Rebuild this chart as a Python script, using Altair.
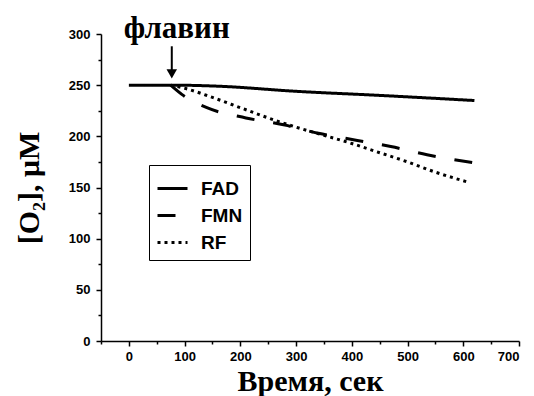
import altair as alt
import pandas as pd

# ---- data ----
fad_t = [0, 80, 160, 300, 450, 620]
fad_v = [250, 250, 249, 244, 240, 235]

fmn_t = [75, 95, 140, 210, 280, 340, 410, 470, 535, 620]
fmn_v = [250, 241, 228, 218, 211, 203, 196, 190, 182, 174]

rf_t = [75, 100, 150, 200, 250, 300, 350, 400, 450, 500, 550, 610]
rf_v = [250, 247, 238, 228, 218, 209, 201, 193, 184, 175, 165, 155]

series_names = ["FAD", "FMN", "RF"]

arrow_t = [77]
arrow_top = [288]
arrow_tip = [261]
label_text = ["флавин"]
label_v = [305]

x_major = [0, 100, 200, 300, 400, 500, 600, 700]
x_minor = [-50, 50, 150, 250, 350, 450, 550, 650]
y_major = [0, 50, 100, 150, 200, 250, 300]
y_minor = [25, 75, 125, 175, 225, 275]

rows = []
for name, ts, vs in zip(series_names, [fad_t, fmn_t, rf_t], [fad_v, fmn_v, rf_v]):
    for t, v in zip(ts, vs):
        rows.append({"series": name, "t": t, "v": v})
df = pd.DataFrame(rows)

ann = pd.DataFrame({"t": arrow_t, "top": arrow_top, "tip": arrow_tip,
                    "label": label_text, "lv": label_v})

xscale = alt.Scale(domain=[-50, 700], nice=False, zero=False)
yscale = alt.Scale(domain=[0, 300], nice=False)

tick_font = "Liberation Sans"
serif = "Liberation Serif"

x_axis = alt.Axis(values=x_major, title="Время, сек", titleFont=serif, titleFontSize=30,
                  titleFontWeight="bold", titleColor="black", titlePadding=3,
                  labelFont=tick_font, labelFontWeight="bold", labelFontSize=13,
                  labelColor="black", tickColor="black", domainColor="black",
                  tickSize=5, tickWidth=1.5, domainWidth=1.5, grid=False, labelPadding=4)
y_axis = alt.Axis(values=y_major, title="[O₂], μM", titleFont=serif, titleFontSize=30,
                  titleFontWeight="bold", titleColor="black", titlePadding=24,
                  labelFont=tick_font, labelFontWeight="bold", labelFontSize=13,
                  labelColor="black", tickColor="black", domainColor="black",
                  tickSize=5, tickWidth=1.5, domainWidth=1.5, grid=False, labelPadding=6)

lines = alt.Chart(df).mark_line(strokeWidth=3, color="black", interpolate="monotone").encode(
    x=alt.X("t:Q", scale=xscale, axis=x_axis),
    y=alt.Y("v:Q", scale=yscale, axis=y_axis),
    strokeDash=alt.StrokeDash(
        "series:N",
        scale=alt.Scale(domain=series_names, range=[[1, 0], [18, 19], [3, 4]]),
        legend=alt.Legend(
            title=None, orient="none", legendX=48, legendY=131,
            strokeColor="black", fillColor="white", padding=7,
            symbolType="stroke", symbolSize=900, symbolStrokeWidth=3,
            symbolStrokeColor="black", labelFont=tick_font, labelFontSize=19,
            labelFontWeight="bold", labelColor="black", rowPadding=0,
            labelOffset=12, cornerRadius=0,
        ),
    ),
)

minor_x_axis = alt.Axis(values=x_minor, labels=False, title=None, domain=False,
                        tickSize=3, tickWidth=1.5, tickColor="black", grid=False, orient="bottom")
minor_y_axis = alt.Axis(values=y_minor, labels=False, title=None, domain=False,
                        tickSize=3, tickWidth=1.5, tickColor="black", grid=False, orient="left")

minor = alt.Chart(df).mark_point(opacity=0).encode(
    x=alt.X("t:Q", scale=xscale, axis=minor_x_axis),
    y=alt.Y("v:Q", scale=yscale, axis=minor_y_axis),
)

arrow_shaft = alt.Chart(ann).mark_rule(color="black", strokeWidth=2).encode(
    x=alt.X("t:Q", scale=xscale, axis=None),
    y=alt.Y("top:Q", scale=yscale, axis=None),
    y2="tip:Q",
)
arrow_head = alt.Chart(ann).mark_point(shape="triangle-down", filled=True, color="black",
                                       size=110, opacity=1).encode(
    x=alt.X("t:Q", scale=xscale, axis=None),
    y=alt.Y("tip:Q", scale=yscale, axis=None),
)
label = alt.Chart(ann).mark_text(font=serif, fontSize=31, fontWeight="bold", color="black",
                                 dx=5, baseline="middle").encode(
    x=alt.X("t:Q", scale=xscale, axis=None),
    y=alt.Y("lv:Q", scale=yscale, axis=None),
    text="label:N",
)

chart = alt.layer(lines, minor, arrow_shaft, arrow_head, label).resolve_axis(
    x="independent", y="independent"
).properties(
    width=418, height=307,
    autosize=alt.AutoSizeParams(type="none"),
    padding={"left": 101, "top": 34, "right": 15, "bottom": 55},
).configure_view(stroke=None)

chart.save("out.html", embed_options={"renderer": "svg", "actions": False})
